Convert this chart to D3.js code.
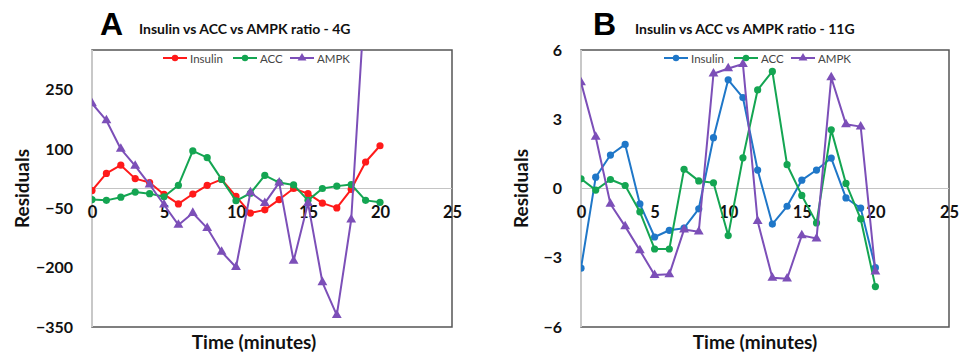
<!DOCTYPE html>
<html>
<head>
<meta charset="utf-8">
<script src="https://cdn.jsdelivr.net/npm/d3@7/dist/d3.min.js"></script>
<style>
  html, body { margin: 0; padding: 0; background: #fff; }
  svg { display: block; font-family: Lato, "Open Sans", sans-serif; }
</style>
</head>
<body>
<svg id="chart" width="961" height="357"></svg>
<script>
// Sampling times (minutes)
const minutes = [0, 1, 2, 3, 4, 5, 6, 7, 8, 9, 10, 11, 12, 13, 14, 15, 16, 17, 18, 19, 20];

// Panel A – 4G residuals
const insulin4G = [-5, 38, 59, 25, 15, -15, -39, -14, 8, 23, -20, -62, -54, -28, 0, -13, -37, -49, -2, 67, 108];
const acc4G     = [-28, -30, -22, -9, -13, -21, 8, 95, 78, 23, -31, -12, 33, 15, 9, -30, 0, 6, 10, -30, -35];
const ampk4G    = [215, 172, 100, 57, 10, -41, -92, -62, -100, -160, -199, -10, -37, 15, -183, -37, -237, -320, -79, 510, 640];

// Panel B – 11G residuals
const insulin11G = [-3.45, 0.49, 1.45, 1.91, -0.67, -2.1, -1.81, -1.72, -0.88, 2.2, 4.71, 3.94, 0.8, -1.54, -0.77, 0.36, 0.8, 1.32, -0.41, -0.85, -3.43];
const acc11G     = [0.42, -0.07, 0.39, 0.13, -1.01, -2.62, -2.62, 0.83, 0.33, 0.25, -2.04, 1.33, 4.27, 5.07, 1.03, -0.3, -1.49, 2.54, 0.22, -1.32, -4.25];
const ampk11G    = [4.6, 2.23, -0.67, -1.64, -2.68, -3.75, -3.72, -1.78, -1.87, 4.97, 5.2, 5.39, -1.42, -3.87, -3.91, -2.03, -2.17, 4.81, 2.78, 2.68, -3.6];

// Axis ticks
const xTickValues = [0, 5, 10, 15, 20, 25];
const yTicksA = [-350, -200, -50, 100, 250];
const yTicksB = [-6, -3, 0, 3, 6];

const seriesNames = ["Insulin", "ACC", "AMPK"];

const svg = d3.select("#chart");

const panels = [
  {
    id: "a", letter: "A", title: "Insulin vs ACC vs AMPK ratio - 4G",
    left: 92, right: 452, top: 50, bottom: 327,
    yDomain: [-350, 350], yTicks: yTicksA,
    series: [
      { name: seriesNames[0], values: insulin4G, color: "#ff1a1a", marker: "circle" },
      { name: seriesNames[1], values: acc4G,     color: "#14a552", marker: "circle" },
      { name: seriesNames[2], values: ampk4G,    color: "#7c4fb8", marker: "triangle" }
    ],
    legendX: 163, letterX: 100, titleX: 139, yLabelX: 21, xLabelX: 254
  },
  {
    id: "b", letter: "B", title: "Insulin vs ACC vs AMPK ratio - 11G",
    left: 581, right: 949, top: 50, bottom: 327,
    yDomain: [-6, 6], yTicks: yTicksB,
    series: [
      { name: seriesNames[0], values: insulin11G, color: "#1f77c8", marker: "circle" },
      { name: seriesNames[1], values: acc11G,     color: "#14a552", marker: "circle" },
      { name: seriesNames[2], values: ampk11G,    color: "#7c4fb8", marker: "triangle" }
    ],
    legendX: 664, letterX: 593, titleX: 635, yLabelX: 520, xLabelX: 755
  }
];

const triangle = d3.symbol().type(d3.symbolTriangle).size(42);

panels.forEach(p => {
  const x = d3.scaleLinear().domain([0, 25]).range([p.left, p.right]);
  const y = d3.scaleLinear().domain(p.yDomain).range([p.bottom, p.top]);
  const g = svg.append("g");

  // Panel letter and title
  g.append("text").attr("x", p.letterX).attr("y", 35)
    .attr("font-size", 32).attr("font-weight", 900).attr("fill", "#000")
    .attr("font-family", "Liberation Sans, Arial, sans-serif")
    .text(p.letter);
  g.append("text").attr("x", p.titleX).attr("y", 34)
    .attr("font-size", 14).attr("font-weight", 700).attr("fill", "#111")
    .text(p.title);

  // Plot area frame
  g.append("rect")
    .attr("x", p.left).attr("y", p.top)
    .attr("width", p.right - p.left).attr("height", p.bottom - p.top)
    .attr("fill", "#fff").attr("stroke", "#555").attr("stroke-width", 1.5);

  // Vertical value axis line
  g.append("line")
    .attr("x1", p.left).attr("x2", p.left).attr("y1", p.top).attr("y2", p.bottom)
    .attr("stroke", "#c8c8c8").attr("stroke-width", 2);

  // Horizontal axis at zero
  g.append("line")
    .attr("x1", p.left).attr("x2", p.right).attr("y1", y(0)).attr("y2", y(0))
    .attr("stroke", "#c4c4c4").attr("stroke-width", 1.2);

  // Y tick labels
  const yAxis = d3.axisLeft(y).tickValues(p.yTicks).tickSize(0).tickPadding(19);
  const ya = g.append("g").attr("transform", `translate(${p.left},0)`).call(yAxis);
  ya.select(".domain").remove();
  ya.selectAll("text").attr("font-size", 16).attr("font-weight", 700)
    .attr("fill", "#111").attr("font-family", "Lato, sans-serif");

  // X tick labels sitting just below the zero line
  const xAxis = d3.axisBottom(x).tickValues(xTickValues).tickSize(0).tickPadding(18);
  const xa = g.append("g").attr("transform", `translate(0,${y(0)})`).call(xAxis);
  xa.select(".domain").remove();
  xa.selectAll("text").attr("font-size", 16.5).attr("font-weight", 700)
    .attr("fill", "#111").attr("font-family", "Lato, sans-serif");

  // Axis titles
  g.append("text")
    .attr("transform", `translate(${p.yLabelX},${(p.top + p.bottom) / 2}) rotate(-90)`)
    .attr("text-anchor", "middle").attr("dominant-baseline", "central")
    .attr("font-size", 19).attr("font-weight", 700).attr("fill", "#111")
    .text("Residuals");
  g.append("text")
    .attr("x", p.xLabelX).attr("y", 349)
    .attr("text-anchor", "middle")
    .attr("font-size", 19).attr("font-weight", 700).attr("fill", "#111")
    .text("Time (minutes)");

  // Clip lines and markers to the plot area
  g.append("clipPath").attr("id", "clip-" + p.id)
    .append("rect")
    .attr("x", p.left).attr("y", p.top)
    .attr("width", p.right - p.left).attr("height", p.bottom - p.top);

  const plot = g.append("g").attr("clip-path", `url(#clip-${p.id})`);
  const line = d3.line().x((d, i) => x(minutes[i])).y(d => y(d));

  p.series.forEach(s => {
    plot.append("path").datum(s.values)
      .attr("d", line).attr("fill", "none")
      .attr("stroke", s.color).attr("stroke-width", 2)
      .attr("stroke-linejoin", "round");
    if (s.marker === "circle") {
      plot.selectAll(null).data(s.values).enter().append("circle")
        .attr("cx", (d, i) => x(minutes[i])).attr("cy", d => y(d))
        .attr("r", 3.6).attr("fill", s.color);
    } else {
      plot.selectAll(null).data(s.values).enter().append("path")
        .attr("d", triangle)
        .attr("transform", (d, i) => `translate(${x(minutes[i])},${y(d)})`)
        .attr("fill", s.color);
    }
  });

  // Legend
  const lg = g.append("g").attr("transform", `translate(${p.legendX},58)`);
  const offsets = [0, 70, 127];
  p.series.forEach((s, k) => {
    const item = lg.append("g").attr("transform", `translate(${offsets[k]},0)`);
    item.append("line").attr("x1", 0).attr("x2", 24).attr("y1", 0).attr("y2", 0)
      .attr("stroke", s.color).attr("stroke-width", 2);
    if (s.marker === "circle") {
      item.append("circle").attr("cx", 12).attr("cy", 0).attr("r", 3.2).attr("fill", s.color);
    } else {
      item.append("path").attr("d", d3.symbol().type(d3.symbolTriangle).size(34))
        .attr("transform", "translate(12,0)").attr("fill", s.color);
    }
    item.append("text").attr("x", 27).attr("y", 0)
      .attr("dominant-baseline", "central")
      .attr("font-size", 11.5).attr("fill", "#444")
      .text(s.name);
  });
});
</script>
</body>
</html>
